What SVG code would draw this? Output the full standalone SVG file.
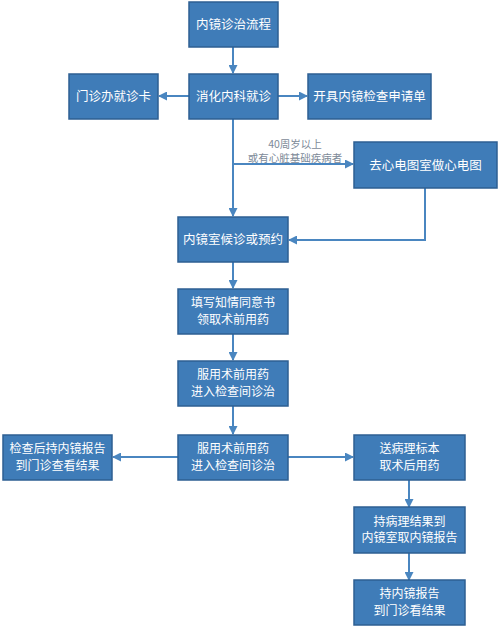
<svg xmlns="http://www.w3.org/2000/svg" width="500" height="630" viewBox="0 0 500 630">
<defs>
<marker id="ah" markerUnits="userSpaceOnUse" markerWidth="9" markerHeight="9" refX="8" refY="4.5" orient="auto"><path d="M0,0 L9,4.5 L0,9 z" fill="#4a86c0"/></marker>
<style>
.box{fill:#3f7cb8;stroke:#2e5f92;stroke-width:1.5}
.t{font-family:"Noto Sans CJK SC","Liberation Sans",sans-serif;font-size:12.5px;fill:#ffffff;text-anchor:middle}
.t2{font-family:"Noto Sans CJK SC","Liberation Sans",sans-serif;font-size:12px;fill:#ffffff;text-anchor:middle}
.lbl{font-family:"Noto Sans CJK SC","Liberation Sans",sans-serif;font-size:10.5px;fill:#7d8a98;text-anchor:middle}
.c{fill:none;stroke:#4a86c0;stroke-width:2}
</style>
</defs>
<rect width="500" height="630" fill="#ffffff"/>
<g id="connectors">
<path class="c" d="M233,47 V73" marker-end="url(#ah)"/>
<path class="c" d="M189,96 H159" marker-end="url(#ah)"/>
<path class="c" d="M278,96 H307" marker-end="url(#ah)"/>
<path class="c" d="M233,119 V216" marker-end="url(#ah)"/>
<path class="c" d="M233,164 H353" marker-end="url(#ah)"/>
<path class="c" d="M425,188 V240 H289" marker-end="url(#ah)"/>
<path class="c" d="M233,262 V288" marker-end="url(#ah)"/>
<path class="c" d="M233,334 V360" marker-end="url(#ah)"/>
<path class="c" d="M233,406 V434" marker-end="url(#ah)"/>
<path class="c" d="M178,457 H113" marker-end="url(#ah)"/>
<path class="c" d="M288,457 H353" marker-end="url(#ah)"/>
<path class="c" d="M409,480 V507" marker-end="url(#ah)"/>
<path class="c" d="M409,553 V580" marker-end="url(#ah)"/>
<text class="lbl" x="295" y="147.5">40周岁以上</text>
<text class="lbl" x="295" y="161.5">或有心脏基础疾病者</text>
</g>
<g id="n1"><rect class="box" x="189" y="2" width="89" height="45"/><text class="t" x="233.5" y="29">内镜诊治流程</text></g>
<g id="n2"><rect class="box" x="69" y="74" width="89" height="45"/><text class="t" x="113.5" y="101">门诊办就诊卡</text></g>
<g id="n3"><rect class="box" x="189" y="74" width="89" height="45"/><text class="t" x="233.5" y="101">消化内科就诊</text></g>
<g id="n4"><rect class="box" x="308" y="74" width="123" height="45"/><text class="t" x="369.5" y="101">开具内镜检查申请单</text></g>
<g id="n5"><rect class="box" x="354" y="142" width="143" height="46"/><text class="t" x="425.5" y="169.5">去心电图室做心电图</text></g>
<g id="n6"><rect class="box" x="178" y="217" width="110" height="45"/><text class="t" x="233" y="244">内镜室候诊或预约</text></g>
<g id="n7"><rect class="box" x="178" y="289" width="110" height="45"/><text class="t2" x="233" y="307">填写知情同意书</text><text class="t2" x="233" y="323.5">领取术前用药</text></g>
<g id="n8"><rect class="box" x="178" y="361" width="110" height="45"/><text class="t2" x="233" y="379">服用术前用药</text><text class="t2" x="233" y="395.5">进入检查间诊治</text></g>
<g id="n9"><rect class="box" x="178" y="435" width="110" height="45"/><text class="t2" x="233" y="453">服用术前用药</text><text class="t2" x="233" y="469.5">进入检查间诊治</text></g>
<g id="n10"><rect class="box" x="3" y="435" width="109" height="45"/><text class="t2" x="57.5" y="453">检查后持内镜报告</text><text class="t2" x="57.5" y="469.5">到门诊查看结果</text></g>
<g id="n11"><rect class="box" x="354" y="435" width="111" height="45"/><text class="t2" x="409.5" y="453">送病理标本</text><text class="t2" x="409.5" y="469.5">取术后用药</text></g>
<g id="n12"><rect class="box" x="354" y="507" width="111" height="46"/><text class="t2" x="409.5" y="525.5">持病理结果到</text><text class="t2" x="409.5" y="542">内镜室取内镜报告</text></g>
<g id="n13"><rect class="box" x="354" y="580" width="111" height="45"/><text class="t2" x="409.5" y="598">持内镜报告</text><text class="t2" x="409.5" y="614.5">到门诊看结果</text></g>
</svg>
